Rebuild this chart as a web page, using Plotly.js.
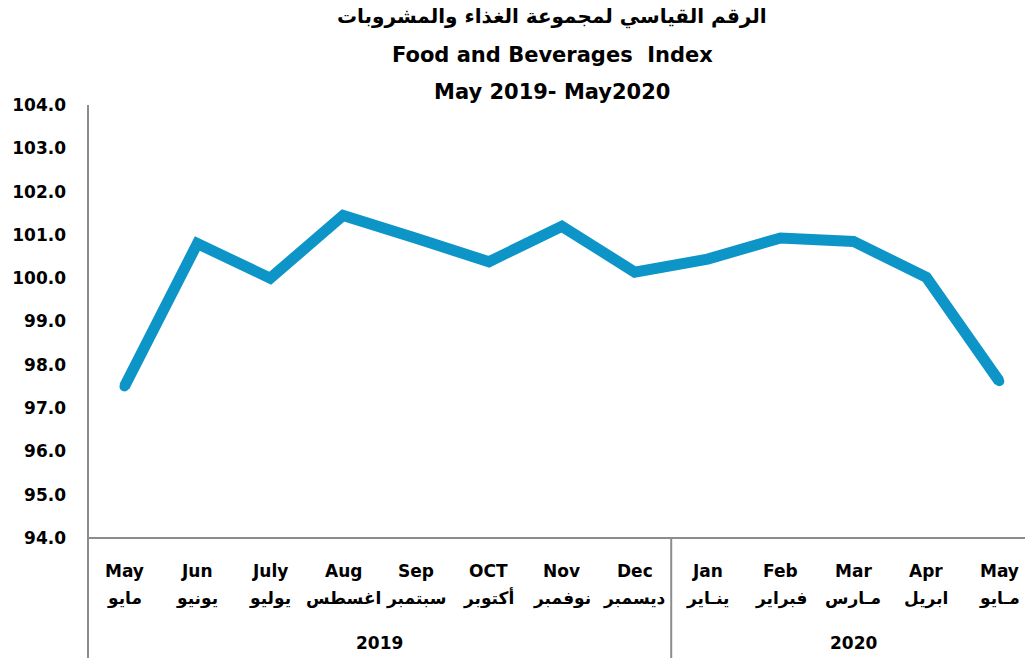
<!DOCTYPE html>
<html>
<head>
<meta charset="utf-8">
<script src="https://cdn.plot.ly/plotly-3.0.1.min.js"></script>
<style>
html,body{margin:0;padding:0;background:#fff;overflow:hidden;}
#chart{width:1025px;height:658px;}
</style>
</head>
<body>
<div id="chart"></div>
<script>
// ---- data ----
const monthsEn = ["May","Jun","July","Aug","Sep","OCT","Nov","Dec","Jan","Feb","Mar","Apr","May"];
const monthsAr = ["مايو","يونيو","يوليو","اغسطس","سبتمبر","أكتوبر","نوفمبر","ديسمبر","ينـاير","فبراير","مـارس","ابريل","مـايو"];
const indexValues = [97.5, 100.8, 100.0, 101.45, 100.92, 100.38, 101.2, 100.14, 100.44, 100.93, 100.85, 100.02, 97.62];
const years = ["2019","2020"];
const yearSpans = [[0,7],[8,12]];
const titleLines = ["الرقم القياسي لمجموعة الغذاء والمشروبات","Food and Beverages  Index","May 2019- May2020"];

const FONT = "DejaVu Sans, Liberation Sans, sans-serif";
const xIdx = monthsEn.map((_, i) => i);
const xr = [-0.5, 12.353];
const yr = [94, 104];
const gray = "#8c8c8c";
const lineColor = "#0e95c7";
const lineW = 11;

const plotTop = 105, plotBottom = 538, H = 658, L = 88, W = 1025;
const ph = plotBottom - plotTop;
const pyToPaper = py => (plotBottom - py) / ph;
const pxToPaper = px => (px - L) / (W - L);
const xToPaper = x => (x - xr[0]) / (xr[1] - xr[0]);

const annotations = [];
monthsEn.forEach((m, i) => {
  annotations.push({x: i, y: pyToPaper(571), xref: 'x', yref: 'paper', text: '<b>' + m + '</b>',
    showarrow: false, font: {family: FONT, size: 17, color: '#000'}, xanchor: 'center', yanchor: 'middle'});
  annotations.push({x: i, y: pyToPaper(598), xref: 'x', yref: 'paper', text: '<b>' + monthsAr[i] + '</b>',
    showarrow: false, font: {family: FONT, size: 17, color: '#000'}, xanchor: 'center', yanchor: 'middle'});
});
years.forEach((yv, k) => {
  annotations.push({x: (yearSpans[k][0] + yearSpans[k][1]) / 2, y: pyToPaper(643), xref: 'x', yref: 'paper',
    text: '<b>' + yv + '</b>', showarrow: false, font: {family: FONT, size: 17, color: '#000'},
    xanchor: 'center', yanchor: 'middle'});
});
const titleY = [17, 55, 92];
const titleSize = [20, 21, 21];
titleLines.forEach((t, k) => {
  annotations.push({x: pxToPaper(552), y: pyToPaper(titleY[k]), xref: 'paper', yref: 'paper', text: '<b>' + t + '</b>',
    showarrow: false, font: {family: FONT, size: titleSize[k], color: '#000'}, xanchor: 'center', yanchor: 'middle'});
});

const shapes = [
  {type: 'line', xref: 'paper', yref: 'paper', x0: 0, x1: 0, y0: 1, y1: pyToPaper(H + 5), line: {color: gray, width: 2}},
  {type: 'line', xref: 'paper', yref: 'paper', x0: 0, x1: 1.01, y0: 0, y1: 0, line: {color: gray, width: 2}},
  {type: 'line', xref: 'paper', yref: 'paper', x0: xToPaper(7.5), x1: xToPaper(7.5), y0: 0, y1: pyToPaper(H + 5), line: {color: gray, width: 2}}
];

const capSizes = indexValues.map((_, i) => (i === 0 || i === indexValues.length - 1) ? lineW - 1 : 0);

const trace = {
  x: xIdx, y: indexValues, type: 'scatter', mode: 'lines+markers',
  line: {color: lineColor, width: lineW, shape: 'linear'},
  marker: {color: lineColor, size: capSizes, opacity: 1, line: {width: 0}},
  cliponaxis: false,
  hoverinfo: 'skip'
};

const layout = {
  width: W, height: H,
  margin: {l: L, r: 0, t: plotTop, b: H - plotBottom, pad: 0},
  paper_bgcolor: '#fff', plot_bgcolor: '#fff',
  showlegend: false,
  xaxis: {range: xr, showgrid: false, zeroline: false, showline: false, showticklabels: false, ticks: '', fixedrange: true},
  yaxis: {range: yr, dtick: 1, tick0: 94, tickformat: '.1f', showgrid: false, zeroline: false, showline: false,
    ticks: '', ticklabelstandoff: 21, tickfont: {family: FONT, size: 17, color: '#000', weight: 'bold'}, fixedrange: true},
  annotations: annotations,
  shapes: shapes
};

Plotly.newPlot('chart', [trace], layout, {displayModeBar: false, staticPlot: true});
</script>
</body>
</html>
